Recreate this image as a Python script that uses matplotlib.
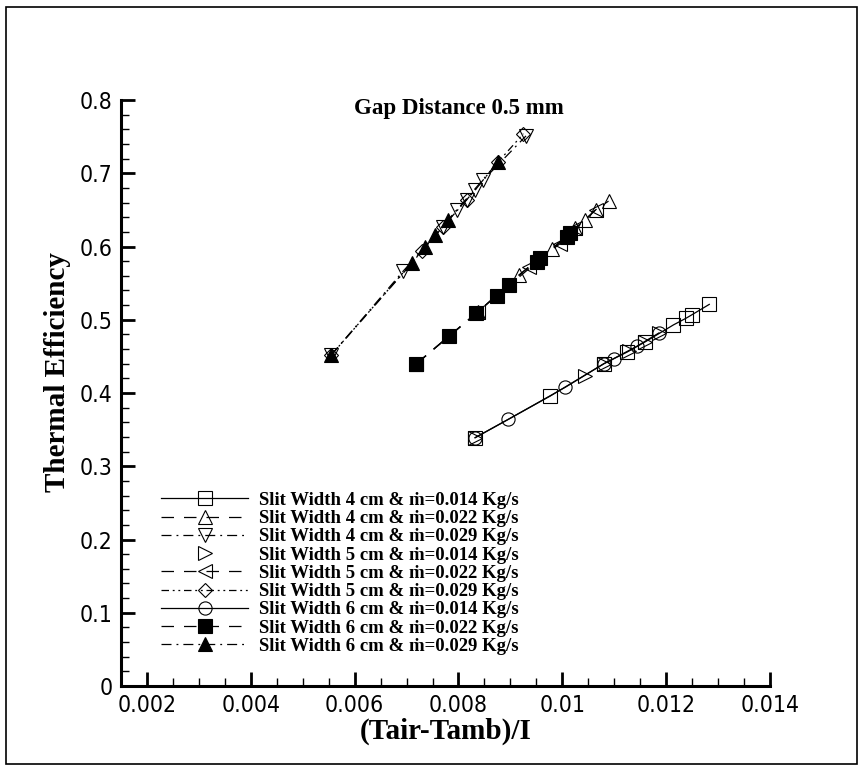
import matplotlib
matplotlib.use("Agg")
import matplotlib.pyplot as plt
from matplotlib.patches import Rectangle
from matplotlib.ticker import MultipleLocator

# slit width 4 cm
x4_014 = [0.00832, 0.00977, 0.0108, 0.01125, 0.0116, 0.01214, 0.01238, 0.0125, 0.01283]
y4_014 = [0.339, 0.396, 0.440, 0.456, 0.470, 0.493, 0.502, 0.507, 0.521]
x4_022 = [0.00719, 0.00838, 0.00916, 0.0098, 0.01025, 0.01044, 0.01064, 0.01089]
y4_022 = [0.440, 0.511, 0.561, 0.597, 0.625, 0.636, 0.650, 0.662]
x4_029 = [0.00555, 0.00693, 0.0077, 0.00797, 0.00816, 0.00832, 0.00848, 0.0093]
y4_029 = [0.452, 0.566, 0.627, 0.650, 0.664, 0.677, 0.691, 0.751]

# slit width 5 cm
x5_014 = [0.00832, 0.01044, 0.0108, 0.01128, 0.0116, 0.01186]
y5_014 = [0.339, 0.423, 0.440, 0.458, 0.470, 0.482]
x5_022 = [0.00719, 0.00838, 0.00935, 0.00996, 0.01025, 0.01064]
y5_022 = [0.440, 0.511, 0.572, 0.604, 0.625, 0.650]
x5_029 = [0.00555, 0.0073, 0.0077, 0.00816, 0.00877, 0.00925]
y5_029 = [0.452, 0.594, 0.627, 0.664, 0.716, 0.754]

# slit width 6 cm
x6_014 = [0.00832, 0.00896, 0.01006, 0.0108, 0.01099, 0.01144, 0.01186]
y6_014 = [0.339, 0.364, 0.408, 0.440, 0.447, 0.464, 0.482]
x6_022 = [0.00719, 0.00782, 0.00834, 0.00874, 0.00898, 0.00951, 0.00957, 0.01009, 0.01015]
y6_022 = [0.440, 0.478, 0.509, 0.533, 0.547, 0.579, 0.584, 0.613, 0.619]
x6_029 = [0.00555, 0.0071, 0.00735, 0.00755, 0.0078, 0.00877]
y6_029 = [0.452, 0.577, 0.600, 0.616, 0.636, 0.716]

labels = [
    "Slit Width 4 cm & ṁ=0.014 Kg/s",
    "Slit Width 4 cm & ṁ=0.022 Kg/s",
    "Slit Width 4 cm & ṁ=0.029 Kg/s",
    "Slit Width 5 cm & ṁ=0.014 Kg/s",
    "Slit Width 5 cm & ṁ=0.022 Kg/s",
    "Slit Width 5 cm & ṁ=0.029 Kg/s",
    "Slit Width 6 cm & ṁ=0.014 Kg/s",
    "Slit Width 6 cm & ṁ=0.022 Kg/s",
    "Slit Width 6 cm & ṁ=0.029 Kg/s",
]
xtick_vals = [0.002, 0.004, 0.006, 0.008, 0.01, 0.012, 0.014]
xtick_text = ["0.002", "0.004", "0.006", "0.008", "0.01", "0.012", "0.014"]
ytick_vals = [0, 0.1, 0.2, 0.3, 0.4, 0.5, 0.6, 0.7, 0.8]
ytick_text = ["0", "0.1", "0.2", "0.3", "0.4", "0.5", "0.6", "0.7", "0.8"]

SERIF = ["Liberation Serif", "DejaVu Serif"]
NARROW = ["Liberation Sans Narrow", "DejaVu Sans"]

dash = (0, (10, 8))
dashdot = (0, (8, 4, 1.5, 4))
dashdotdot = (0, (6, 3, 1.5, 3, 1.5, 3))

series = [
    (x4_014, y4_014, "-", "s", "none"),
    (x4_022, y4_022, dash, "^", "none"),
    (x4_029, y4_029, dashdot, "v", "none"),
    (x5_014, y5_014, "none", ">", "none"),
    (x5_022, y5_022, dash, "<", "none"),
    (x5_029, y5_029, dashdotdot, "D", "none"),
    (x6_014, y6_014, "-", "o", "none"),
    (x6_022, y6_022, dash, "s", "black"),
    (x6_029, y6_029, dashdot, "^", "black"),
]

fig = plt.figure(figsize=(8.65, 7.7), dpi=100)
ax = fig.add_axes([0.1399, 0.1091, 0.7503, 0.761])

for (xs, ys, ls, mk, fc), lab in zip(series, labels):
    ms = 7.5 if mk == "D" else 9.5
    ax.plot(xs, ys, linestyle=ls, color="black", lw=0.9, marker=mk,
            markersize=ms, markerfacecolor=fc, markeredgecolor="black",
            markeredgewidth=0.8, label=lab)

ax.set_xlim(0.0015, 0.014)
ax.set_ylim(0, 0.8)
ax.xaxis.set_minor_locator(MultipleLocator(0.0005))
ax.yaxis.set_minor_locator(MultipleLocator(0.02))
ax.set_xticks(xtick_vals)
ax.set_xticklabels(xtick_text)
ax.set_yticks(ytick_vals)
ax.set_yticklabels(ytick_text)

for side in ["top", "right"]:
    ax.spines[side].set_visible(False)
for side in ["left", "bottom"]:
    ax.spines[side].set_linewidth(2.2)

ax.tick_params(which="major", direction="in", length=10, width=2, labelsize=16.5, pad=6)
ax.tick_params(which="minor", direction="in", length=6, width=1)
for t in ax.get_xticklabels() + ax.get_yticklabels():
    t.set_family(NARROW)
    t.set_stretch("condensed")

ax.set_xlabel("(Tair-Tamb)/I", family=SERIF, fontweight="bold", fontsize=21, labelpad=0)
ax.set_ylabel("Thermal Efficiency", family=SERIF, fontweight="bold", fontsize=21)
ax.yaxis.set_label_coords(-0.077, 0.535)

ax.text(0.52, 0.985, "Gap Distance 0.5 mm", transform=ax.transAxes, ha="center",
        va="center", family=SERIF, fontweight="bold", fontsize=16.5)

leg = ax.legend(loc="lower left", bbox_to_anchor=(0.045, 0.034), frameon=False,
                prop={"family": SERIF, "weight": "bold", "size": 13.5},
                handlelength=4.6, handletextpad=0.6, labelspacing=0.06,
                borderaxespad=0.2)

fig.patches.append(Rectangle((6 / 865, 6 / 770), 851 / 865, 757 / 770,
                             transform=fig.transFigure, fill=False,
                             edgecolor="black", lw=1.2))

fig.savefig("out.png", dpi=100)
